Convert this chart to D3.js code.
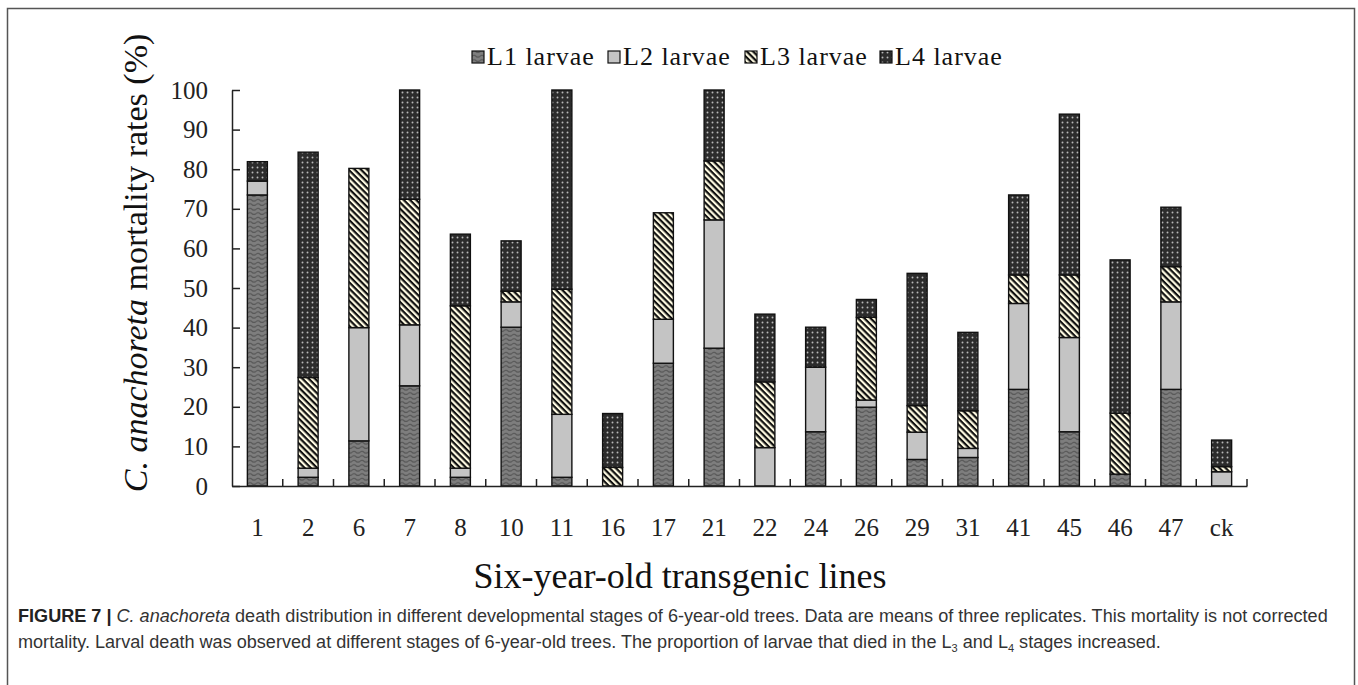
<!DOCTYPE html>
<html>
<head>
<meta charset="utf-8">
<script src="https://cdn.jsdelivr.net/npm/d3@7"></script>
<style>
  html, body { margin: 0; padding: 0; background: #fff; }
  svg { display: block; }
</style>
</head>
<body>
<svg id="chart" width="1358" height="685"></svg>
<script>
// ---- data ----
const categories = ["1","2","6","7","8","10","11","16","17","21","22","24","26","29","31","41","45","46","47","ck"];
const seriesNames = ["L1 larvae","L2 larvae","L3 larvae","L4 larvae"];
const L1 = [73.5, 2.2, 11.4, 25.3, 2.2, 40.1, 2.2, 0.0, 31.0, 34.8, 0.0, 13.7, 19.9, 6.7, 7.2, 24.4, 13.7, 3.0, 24.4, 0.0];
const L2 = [ 3.5, 2.3, 28.6, 15.4, 2.3,  6.4, 15.9, 0.0, 11.1, 32.4, 9.7, 16.3, 1.8, 6.9, 2.3, 21.7, 23.8, 0.0, 22.1, 3.6];
const L3 = [ 0.0, 22.9, 40.2, 31.7, 41.0, 2.7, 31.6, 4.7, 26.9, 14.9, 16.6, 0.0, 20.9, 6.7, 9.5, 7.2, 15.8, 15.4, 8.9, 1.3];
const L4 = [ 4.9, 56.9, 0.0, 27.6, 18.1, 12.7, 50.3, 13.6, 0.0, 17.9, 17.1, 10.1, 4.5, 33.4, 19.8, 20.2, 40.6, 38.7, 15.0, 6.7];
const yTicks = [0,10,20,30,40,50,60,70,80,90,100];

const svg = d3.select("#chart");

// frame
svg.append("rect").attr("x", 7.5).attr("y", 8.5).attr("width", 1347).attr("height", 700)
  .attr("fill", "none").attr("stroke", "#555").attr("stroke-width", 1.5);

// ---- patterns ----
const defs = svg.append("defs");
const p1 = defs.append("pattern").attr("id", "pat0").attr("patternUnits", "userSpaceOnUse")
  .attr("width", 8).attr("height", 4.5);
p1.append("rect").attr("width", 8).attr("height", 4.5).attr("fill", "#7e7e7e");
p1.append("path").attr("d", "M0,2.2 Q2,0.4 4,2.2 T8,2.2").attr("fill", "none")
  .attr("stroke", "#555").attr("stroke-width", 1.1);

const p2 = defs.append("pattern").attr("id", "pat1").attr("patternUnits", "userSpaceOnUse")
  .attr("width", 4).attr("height", 4);
p2.append("rect").attr("width", 4).attr("height", 4).attr("fill", "#c4c4c4");

const p3 = defs.append("pattern").attr("id", "pat2").attr("patternUnits", "userSpaceOnUse")
  .attr("width", 4.4).attr("height", 4.4).attr("patternTransform", "rotate(45)");
p3.append("rect").attr("width", 4.4).attr("height", 4.4).attr("fill", "#fffbe2");
p3.append("rect").attr("width", 4.4).attr("height", 2.2).attr("fill", "#111");

const p4 = defs.append("pattern").attr("id", "pat3").attr("patternUnits", "userSpaceOnUse")
  .attr("width", 5).attr("height", 5);
p4.append("rect").attr("width", 5).attr("height", 5).attr("fill", "#2c2c2c");
p4.append("circle").attr("cx", 2.5).attr("cy", 2.5).attr("r", 0.95).attr("fill", "#b8b8b8");

// ---- scales ----
const x = d3.scaleBand().domain(categories).range([232, 1247]).paddingInner(0.606).paddingOuter(0.303);
const y = d3.scaleLinear().domain([0, 100]).range([486, 90]);

// ---- stacked bars ----
const rows = categories.map((c, i) => ({cat: c, s0: L1[i], s1: L2[i], s2: L3[i], s3: L4[i]}));
const stack = d3.stack().keys(["s0","s1","s2","s3"]);
const layers = stack(rows);

const g = svg.append("g");
layers.forEach((layer, li) => {
  g.append("g").selectAll("rect")
    .data(layer.filter(d => d[1] - d[0] > 0))
    .join("rect")
    .attr("x", d => x(d.data.cat))
    .attr("width", x.bandwidth())
    .attr("y", d => y(d[1]))
    .attr("height", d => y(d[0]) - y(d[1]))
    .attr("fill", `url(#pat${li})`)
    .attr("stroke", "#111")
    .attr("stroke-width", 1.4);
});

// ---- axes ----
const yAxis = d3.axisLeft(y).tickValues(yTicks).tickSizeInner(-8).tickSizeOuter(0).tickPadding(24);
const ya = svg.append("g").attr("transform", "translate(232,0)").call(yAxis);
ya.select(".domain").attr("stroke", "#222").attr("stroke-width", 1.5);
ya.selectAll(".tick line").attr("stroke", "#222").attr("stroke-width", 1.5);
ya.selectAll(".tick text").attr("font-family", "Liberation Serif, Times New Roman, serif")
  .attr("font-size", 25).attr("fill", "#222");

const xAxis = d3.axisBottom(x).tickSize(0).tickPadding(32);
const xa = svg.append("g").attr("transform", "translate(0,486)").call(xAxis);
xa.select(".domain").attr("stroke", "#222").attr("stroke-width", 1.5);
xa.selectAll(".tick text").attr("font-family", "Liberation Serif, Times New Roman, serif")
  .attr("font-size", 25).attr("fill", "#222");
// boundary ticks pointing up between categories
const gap = x.step() - x.bandwidth();
xa.append("g").selectAll("line").data(categories).join("line")
  .attr("x1", d => x(d) + x.bandwidth() + gap / 2)
  .attr("x2", d => x(d) + x.bandwidth() + gap / 2)
  .attr("y1", 0).attr("y2", -7)
  .attr("stroke", "#222").attr("stroke-width", 1.5);

// ---- axis titles ----
svg.append("text").attr("x", 680).attr("y", 588).attr("text-anchor", "middle")
  .attr("font-family", "Liberation Serif, Times New Roman, serif").attr("font-size", 36).attr("fill", "#111")
  .text("Six-year-old transgenic lines");

const yt = svg.append("text").attr("transform", "translate(147,263) rotate(-90)").attr("text-anchor", "middle")
  .attr("font-family", "Liberation Serif, Times New Roman, serif").attr("font-size", 34).attr("fill", "#111");
yt.append("tspan").attr("font-style", "italic").text("C. anachoreta");
yt.append("tspan").text(" mortality rates (%)");

// ---- legend ----
const legendX = [472, 608, 745, 880];
const leg = svg.append("g");
seriesNames.forEach((n, i) => {
  leg.append("rect").attr("x", legendX[i]).attr("y", 51).attr("width", 12).attr("height", 12)
    .attr("fill", `url(#pat${i})`).attr("stroke", "#111").attr("stroke-width", 1.2);
  leg.append("text").attr("x", legendX[i] + 15).attr("y", 65)
    .attr("font-family", "Liberation Serif, Times New Roman, serif").attr("font-size", 26).attr("fill", "#111")
    .attr("letter-spacing", 1)
    .text(n);
});

// ---- caption ----
const cap1 = svg.append("text").attr("x", 18).attr("y", 622)
  .attr("font-family", "Liberation Sans, Arial, sans-serif").attr("font-size", 15.5).attr("fill", "#333");
cap1.append("tspan").attr("font-weight", "bold").attr("fill", "#222").text("FIGURE 7 | ");
cap1.append("tspan").attr("font-style", "italic").text("C. anachoreta");
cap1.append("tspan").text(" death distribution in different developmental stages of 6-year-old trees. Data are means of three replicates. This mortality is not corrected");

const cap2 = svg.append("text").attr("x", 18).attr("y", 648)
  .attr("font-family", "Liberation Sans, Arial, sans-serif").attr("font-size", 15.5).attr("fill", "#333");
cap2.append("tspan").text("mortality. Larval death was observed at different stages of 6-year-old trees. The proportion of larvae that died in the L");
cap2.append("tspan").attr("font-size", 11).attr("dy", 4).text("3");
cap2.append("tspan").attr("dy", -4).text(" and L");
cap2.append("tspan").attr("font-size", 11).attr("dy", 4).text("4");
cap2.append("tspan").attr("dy", -4).text(" stages increased.");

// fit caption line 1 to its measured width in the reference
const w1 = cap1.node().getComputedTextLength();
const fs = 15.5 * 1310 / w1;
cap1.attr("font-size", fs);
cap2.attr("font-size", fs);
</script>
</body>
</html>
